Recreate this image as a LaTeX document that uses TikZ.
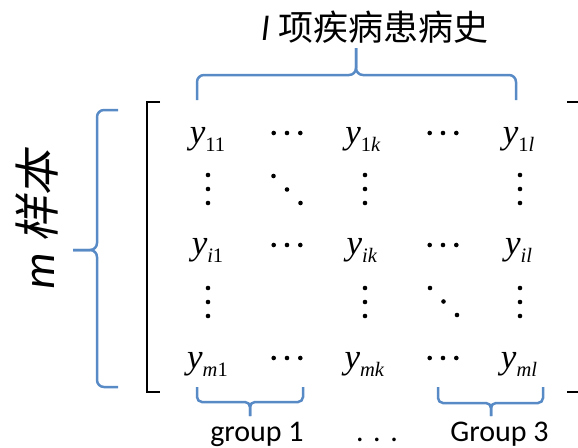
\documentclass[tikz,border=0pt]{standalone}
\usepackage{fontspec}
\setmainfont{Liberation Serif}
\newfontfamily\latinsans{Carlito}
\newfontfamily\hanzi{Noto Sans CJK SC}
\newfontfamily\hanzislant[FakeSlant=0.2]{Noto Sans CJK SC}
\definecolor{braceblue}{RGB}{88,138,198}
% matrix entry y_{...}: italic y with a lowered, smaller subscript
\newcommand{\yent}[1]{{\fontsize{35}{35}\selectfont\itshape y}\raisebox{-8.5pt}{\fontsize{20.5}{20.5}\selectfont #1}}
\newcommand{\ix}[1]{\textit{#1}}
\tikzset{
  entry/.style={anchor=base, inner sep=0pt},
  bracebar/.style={draw=braceblue, line width=2.5pt, rounded corners=7pt},
  smallbrace/.style={bracebar, rounded corners=5pt},
  bracketline/.style={draw=black, line width=2pt},
  hdots/.pic={\fill (-13.3,0) circle (2.3) (0,0) circle (2.3) (13.3,0) circle (2.3);},
  vdots/.pic={\fill (0,-14) circle (2.3) (0,0) circle (2.3) (0,14) circle (2.3);},
  ddots/.pic={\fill (-13.5,-13.5) circle (2.3) (0,0) circle (2.3) (13.5,13.5) circle (2.3);},
}
\begin{document}
\begin{tikzpicture}[x=1pt, y=-1pt]
\useasboundingbox (0,0) rectangle (578,447);

% titles
\node[inner sep=0pt] (ttl) at (375,27)
  {\fontsize{35}{35}\selectfont{\latinsans\itshape l}\hspace{9pt}\hanzi 项疾病患病史};
\node[inner sep=0pt, rotate=90] (rows) at (37,220)
  {\fontsize{46}{46}\selectfont{\latinsans\itshape m}\hspace{10pt}\hanzislant 样本};

% matrix brackets
\draw[bracketline] (160,102) -- (147,102) -- (147,392) -- (160,392);
\draw[bracketline] (567,102) -- (580,102) -- (580,392) -- (567,392);

% entries
\node[entry] (e11) at (207.5,143) {\yent{11}};
\node[entry] (e1k) at (363,143)   {\yent{1\ix{k}}};
\node[entry] (e1l) at (518.5,143) {\yent{1\ix{l}}};
\node[entry] (ei1) at (207.5,254) {\yent{\ix{i}1}};
\node[entry] (eik) at (362,254)   {\yent{\ix{ik}}};
\node[entry] (eil) at (518.5,254) {\yent{\ix{il}}};
\node[entry] (em1) at (207.5,368) {\yent{\ix{m}1}};
\node[entry] (emk) at (364.5,368) {\yent{\ix{mk}}};
\node[entry] (eml) at (519,368)   {\yent{\ix{ml}}};

% ellipsis dots
\pic at (287,133) {hdots};
\pic at (443,133) {hdots};
\pic at (287,245) {hdots};
\pic at (443,245) {hdots};
\pic at (287,358) {hdots};
\pic at (443,358) {hdots};
\pic at (208,189) {vdots};
\pic at (365,189) {vdots};
\pic at (520,189) {vdots};
\pic at (208,302) {vdots};
\pic at (365,302) {vdots};
\pic at (520,302) {vdots};
\pic at (287,189.5) {ddots};
\pic at (443.5,301.5) {ddots};

% brace over the columns
\coordinate (tl) at (197,100);
\coordinate (tr) at (516,100);
\coordinate (tm) at (356,75);
\coordinate (tt) at (356,48);
\draw[bracebar] (tl) |- (tm) -- (tt);
\draw[bracebar] (tr) |- (tm) -- (tt);

% brace beside the rows
\coordinate (lt) at (118,110);
\coordinate (lb) at (118,387);
\coordinate (lm) at (97,250);
\coordinate (lp) at (73,250);
\draw[bracebar] (lt) -| (lm) -- (lp);
\draw[bracebar] (lb) -| (lm) -- (lp);

% group braces
\coordinate (g1l) at (197,387);
\coordinate (g1r) at (303,387);
\coordinate (g1m) at (250,402);
\coordinate (g1t) at (250,416);
\draw[smallbrace] (g1l) |- (g1m) -- (g1t);
\draw[smallbrace] (g1r) |- (g1m) -- (g1t);
\coordinate (g3l) at (438,387);
\coordinate (g3r) at (543,387);
\coordinate (g3m) at (491,403);
\coordinate (g3t) at (491,416);
\draw[smallbrace] (g3l) |- (g3m) -- (g3t);
\draw[smallbrace] (g3r) |- (g3m) -- (g3t);

% group labels
\node[anchor=base, inner sep=0pt] (grp1) at (257,441) {\fontsize{30}{30}\selectfont\latinsans group 1};
\node[anchor=base, inner sep=0pt] (gdots) at (377,441) {\fontsize{30}{30}\selectfont\latinsans .\hspace{9.5pt}.\hspace{9.5pt}.};
\node[anchor=base, inner sep=0pt] (grp3) at (499.5,441) {\fontsize{30}{30}\selectfont\latinsans Group 3};
\end{tikzpicture}
\end{document}
